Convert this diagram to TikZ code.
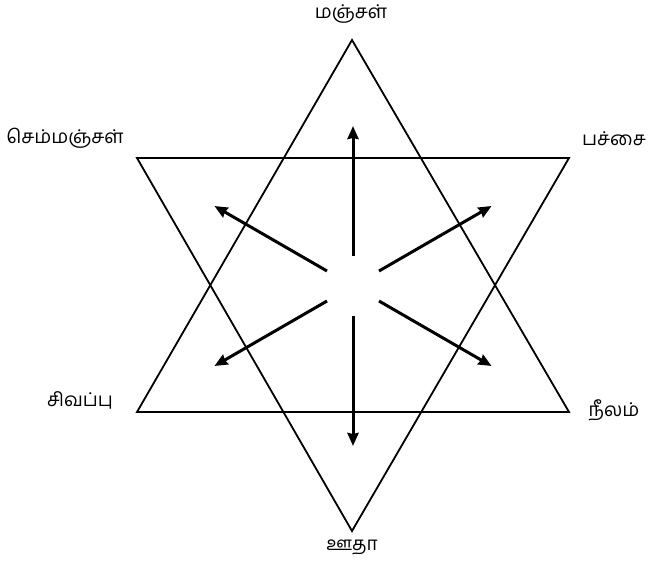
\documentclass[tikz,border=0pt]{standalone}
\usepackage{fontspec}
\newfontfamily\tamilfont[Script=Tamil]{Hind Madurai}
\usepackage{tikz}
\usetikzlibrary{arrows.meta, calc}

\begin{document}
\begin{tikzpicture}[x=1pt, y=-1pt, >={Stealth[length=13pt, width=11pt, inset=1pt]},
    lbl/.style={font=\tamilfont\fontsize{19}{22}\selectfont},
    edge/.style={line width=1.8pt},
    ray/.style={->, line width=3pt}]
  \useasboundingbox (0,0) rectangle (651,563);
  % Triangle corners
  \coordinate (T1) at (352,40);
  \coordinate (T2) at (137,412);
  \coordinate (T3) at (569,412);
  \coordinate (D1) at (137,158);
  \coordinate (D2) at (569,158);
  \coordinate (D3) at (352,531);
  \coordinate (O) at (353,286);

  % Triangles
  \draw[edge, line join=miter] (T1) -- (T2) -- (T3) -- cycle;
  \draw[edge, line join=miter] (D1) -- (D2) -- (D3) -- cycle;

  % Colour names
  \node[lbl] (yel) at (351,14) {மஞ்சள்};
  \node[lbl] (ora) at (65,138) {செம்மஞ்சள்};
  \node[lbl] (gre) at (614,139) {பச்சை};
  \node[lbl] (red) at (80,400) {சிவப்பு};
  \node[lbl] (blu) at (614,410) {நீலம்};
  \node[lbl] (pur) at (352,547) {ஊதா};

  % Arrows from the centre
  \foreach \a in {30,90,...,330} {
    \coordinate (s\a) at ($(O)+(\a:30)$);
    \coordinate (e\a) at ($(O)+(\a:160)$);
    \draw[ray] (s\a) -- (e\a);
  }
\end{tikzpicture}
\end{document}
